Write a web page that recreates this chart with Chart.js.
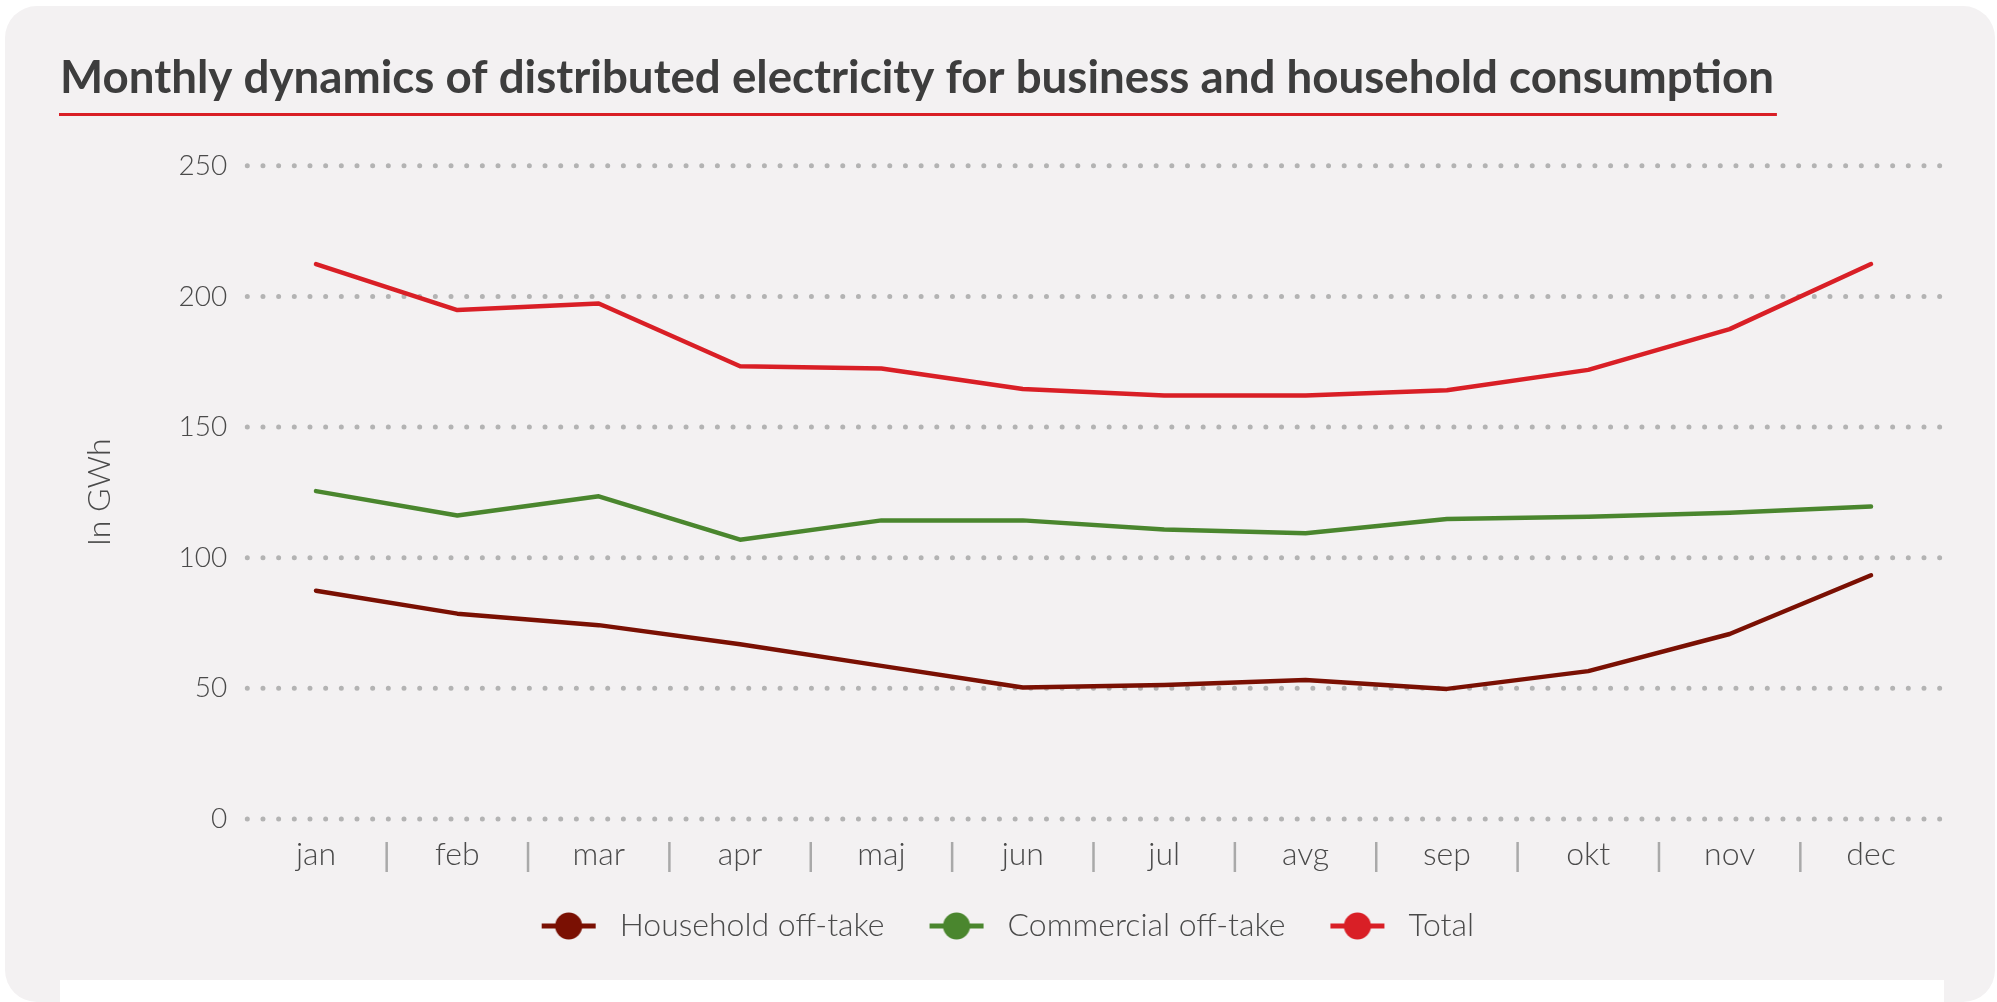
<!DOCTYPE html>
<html>
<head>
<meta charset="utf-8">
<title>Monthly dynamics of distributed electricity</title>
<script src="https://cdn.jsdelivr.net/npm/chart.js@4.4.1/dist/chart.umd.min.js"></script>
<style>
  html, body { margin: 0; padding: 0; background: #fff; overflow: hidden; }
  #card { position: absolute; left: 5px; top: 6px; width: 1990px; height: 996px; border-radius: 32px; background: #f3f1f2; }
  #foot { position: absolute; left: 60px; top: 980px; width: 1884px; height: 40px; background: #fff; }
  #chart { position: absolute; left: 0; top: 0; }
</style>
</head>
<body>
<div id="card"></div>
<div id="foot"></div>
<canvas id="chart" width="1997" height="1002"></canvas>
<script>
// Months on the x axis
const months = ['jan', 'feb', 'mar', 'apr', 'maj', 'jun', 'jul', 'avg', 'sep', 'okt', 'nov', 'dec'];

// Off-take per month, in GWh
const household = [87.4, 78.6, 74.2, 66.9, 58.6, 50.3, 51.3, 53.2, 49.8, 56.6, 70.8, 93.3];
const commercial = [125.5, 116.2, 123.5, 106.9, 114.3, 114.3, 110.8, 109.4, 114.8, 115.7, 117.2, 119.6];
const total = [212.4, 194.8, 197.3, 173.3, 172.4, 164.6, 162.1, 162.1, 164.1, 171.9, 187.5, 212.4];

// Ticks on the value axis
const yTicks = [0, 50, 100, 150, 200, 250];

const seriesNames = ['Household off-take', 'Commercial off-take', 'Total'];
const seriesColors = ['#7a1003', '#4a862e', '#d91f26'];

const titleText = 'Monthly dynamics of distributed electricity for business and household consumption';
const titleFont = { family: 'Lato', size: 45.7, weight: '700', lineHeight: 1.2 };
const labelFont = { family: 'Lato', size: 32, weight: '300', lineHeight: 1.2 };
const textColor = '#4a4a4a';

// Legend marker: short line with a dot in the middle (transparent margin on the left)
function makeSymbol(color) {
    const c = document.createElement('canvas');
    c.width = 76;
    c.height = 30;
    const g = c.getContext('2d');
    g.strokeStyle = color;
    g.lineWidth = 5;
    g.beginPath();
    g.moveTo(14, 15);
    g.lineTo(68, 15);
    g.stroke();
    g.fillStyle = color;
    g.beginPath();
    g.arc(41, 15, 13.5, 0, Math.PI * 2);
    g.fill();
    return c;
}
const symbols = seriesColors.map(makeSymbol);

// Dotted grid, month separators and the title underline
const decorations = {
    id: 'decorations',
    beforeDatasetsDraw(chart) {
        const { ctx, chartArea, scales: { y } } = chart;
        ctx.save();
        ctx.strokeStyle = '#b3b3b3';
        ctx.lineWidth = 5;
        ctx.lineCap = 'round';
        ctx.setLineDash([0, 15.67]);
        y.ticks.forEach(t => {
            const py = y.getPixelForValue(t.value);
            ctx.beginPath();
            ctx.moveTo(chartArea.left + 2, py);
            ctx.lineTo(chartArea.right + 2, py);
            ctx.stroke();
        });
        ctx.restore();
    },
    afterDraw(chart) {
        const { ctx, chartArea, scales: { x } } = chart;
        ctx.save();
        ctx.strokeStyle = '#a9a9a9';
        ctx.lineWidth = 2.5;
        for (let i = 0; i < months.length - 1; i++) {
            const px = (x.getPixelForValue(i) + x.getPixelForValue(i + 1)) / 2;
            ctx.beginPath();
            ctx.moveTo(px, chartArea.bottom + 23);
            ctx.lineTo(px, chartArea.bottom + 53);
            ctx.stroke();
        }
        const tb = chart.titleBlock;
        if (tb) {
            ctx.font = `${titleFont.weight} ${titleFont.size}px ${titleFont.family}`;
            const w = ctx.measureText(titleText).width;
            const ly = tb.top + tb.options.padding.top + titleFont.size * titleFont.lineHeight / 2 + 36;
            ctx.strokeStyle = '#d91f26';
            ctx.lineWidth = 3;
            ctx.beginPath();
            ctx.moveTo(tb.left - 1, ly);
            ctx.lineTo(tb.left + w + 3, ly);
            ctx.stroke();
        }
        ctx.restore();
    }
};

const datasets = [household, commercial, total].map((data, i) => ({
    label: seriesNames[i],
    data: data,
    borderColor: seriesColors[i],
    backgroundColor: seriesColors[i],
    borderWidth: 4.5,
    borderCapStyle: 'round',
    borderJoinStyle: 'round',
    pointRadius: 0,
    pointHoverRadius: 0,
    tension: 0
}));

new Chart(document.getElementById('chart'), {
    type: 'line',
    data: { labels: months, datasets: datasets },
    plugins: [decorations],
    options: {
        responsive: false,
        animation: false,
        events: [],
        layout: { padding: { top: 0, left: 60, right: 55.3, bottom: 50 } },
        plugins: {
            tooltip: { enabled: false },
            title: {
                display: true,
                text: titleText,
                align: 'start',
                color: '#3d3d3d',
                font: titleFont,
                padding: { top: 51, bottom: 60 }
            },
            legend: {
                position: 'bottom',
                labels: {
                    usePointStyle: true,
                    pointStyleWidth: 76,
                    padding: 31,
                    color: textColor,
                    font: labelFont,
                    generateLabels: chart => chart.data.datasets.map((ds, i) => ({
                        text: ds.label,
                        pointStyle: symbols[i],
                        fillStyle: ds.borderColor,
                        strokeStyle: ds.borderColor,
                        lineWidth: 0,
                        hidden: false,
                        datasetIndex: i,
                        fontColor: textColor
                    }))
                }
            }
        },
        scales: {
            x: {
                offset: true,
                grid: { display: false, drawTicks: false },
                border: { display: false },
                ticks: { color: textColor, font: labelFont, padding: 16, maxRotation: 0 },
                afterFit: scale => { scale.height = 60; }
            },
            y: {
                min: 0,
                max: 250,
                grid: { display: false, drawTicks: false },
                border: { display: false },
                afterBuildTicks: scale => { scale.ticks = yTicks.map(v => ({ value: v })); },
                ticks: { color: textColor, font: { family: 'Lato', size: 28, weight: '300' }, padding: 18 },
                title: {
                    display: true,
                    text: 'In GWh',
                    color: textColor,
                    font: labelFont,
                    padding: { top: 20, bottom: 0 }
                },
                afterFit: scale => { scale.width = 185.3; }
            }
        }
    }
});
</script>
</body>
</html>
